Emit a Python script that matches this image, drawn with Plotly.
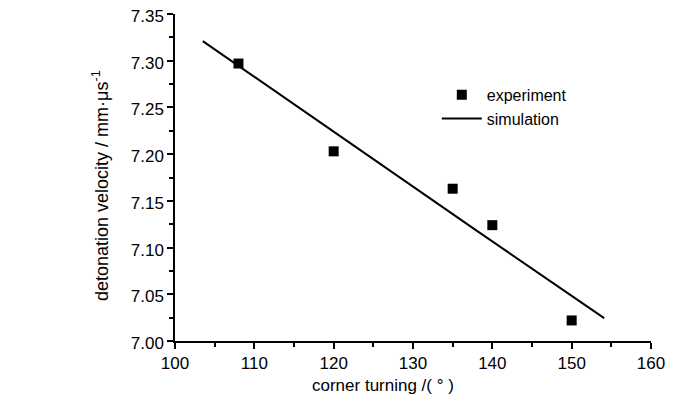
import plotly.graph_objects as go

exp_x = [108, 120, 135, 140, 150]
exp_y = [7.297, 7.203, 7.163, 7.124, 7.022]

sim_x = [103.5, 120, 138.2, 154.1]
sim_y = [7.321, 7.224, 7.117, 7.0245]

x_ticks = [100, 110, 120, 130, 140, 150, 160]
y_ticks = [7.00, 7.05, 7.10, 7.15, 7.20, 7.25, 7.30, 7.35]

x_title = "corner turning /( ° )"
y_title = "detonation velocity / mm·μs<sup>-1</sup>"

regular = "Liberation Sans, Arial, sans-serif"

fig = go.Figure()
fig.add_trace(go.Scatter(x=exp_x, y=exp_y, mode="markers", name="experiment",
                         marker=dict(symbol="square", size=10, color="black")))
fig.add_trace(go.Scatter(x=sim_x, y=sim_y, mode="lines", name="simulation",
                         line=dict(color="black", width=2)))

fig.update_layout(
    width=692, height=390,
    margin=dict(l=167, r=49, t=6, b=57),
    paper_bgcolor="white", plot_bgcolor="white",
    font=dict(family=regular, color="black", size=17),
    legend=dict(x=0.55, y=0.805, xanchor="left", yanchor="top",
                font=dict(family=regular, size=16), bgcolor="rgba(0,0,0,0)",
                tracegroupgap=0, itemwidth=40),
    xaxis=dict(range=[100, 160], tickvals=x_ticks,
               ticktext=[str(v) for v in x_ticks],
               automargin=False, ticklabeloverflow="allow",
               showline=True, linecolor="black", linewidth=1.5,
               ticks="outside", ticklen=6, tickwidth=1.5, tickcolor="black",
               minor=dict(dtick=5, ticks="outside", ticklen=4, tickcolor="black", tickwidth=1.5),
               showgrid=False, zeroline=False, mirror=False,
               tickfont=dict(family=regular, size=17)),
    yaxis=dict(range=[7.00, 7.35], tickvals=y_ticks,
               ticktext=[f"{v:.2f}" for v in y_ticks],
               automargin=False, ticklabeloverflow="allow", ticklabelshift=2,
               showline=True, linecolor="black", linewidth=1.5,
               ticks="outside", ticklen=6, tickwidth=1.5, tickcolor="black",
               minor=dict(dtick=0.025, ticks="outside", ticklen=4, tickcolor="black", tickwidth=1.5),
               showgrid=False, zeroline=False,
               tickfont=dict(family=regular, size=17)),
    annotations=[
        dict(text=x_title, xref="paper", yref="paper", x=0.437, y=-0.1376,
             xanchor="center", yanchor="middle", showarrow=False,
             font=dict(family=regular, size=17)),
        dict(text=y_title, xref="paper", yref="paper", x=-0.1576, y=0.477,
             xanchor="center", yanchor="middle", textangle=-90, showarrow=False,
             font=dict(family=regular, size=18)),
    ],
)

fig.write_html("out.html")
